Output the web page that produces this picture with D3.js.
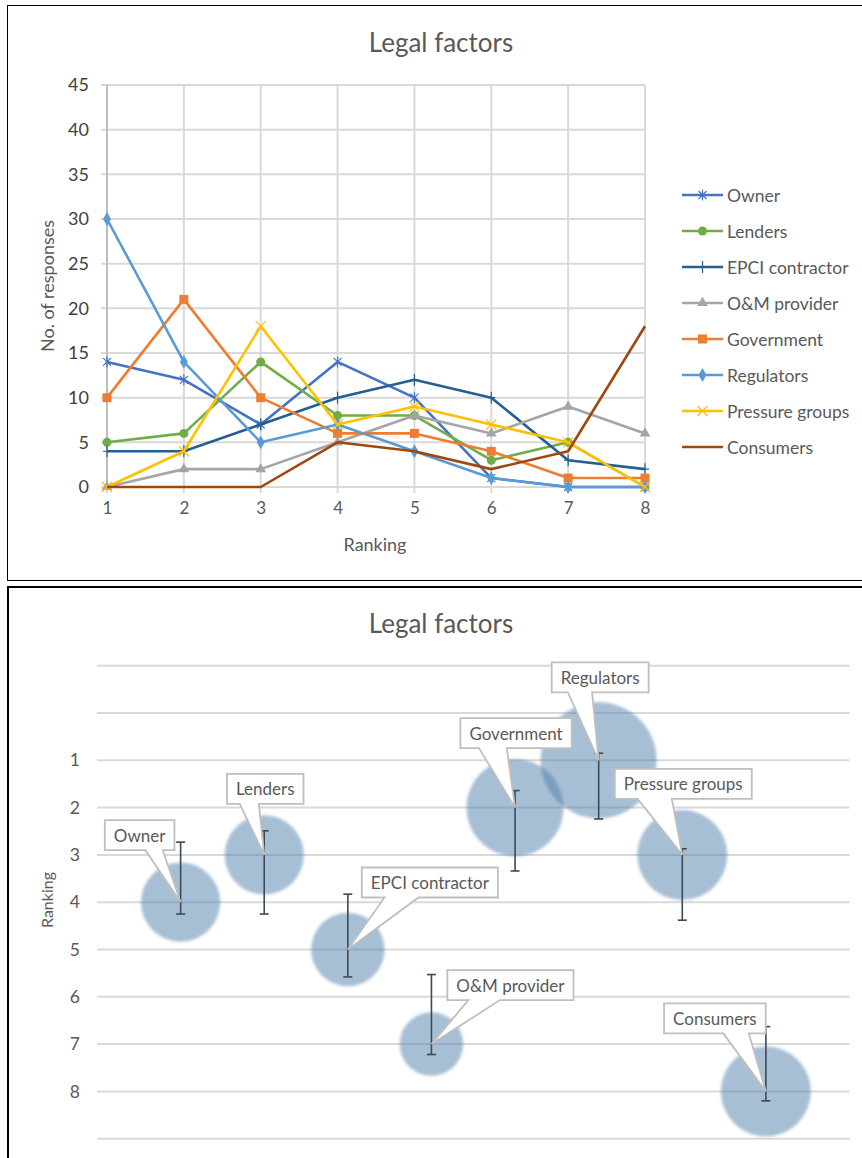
<!DOCTYPE html>
<html>
<head>
<meta charset="utf-8">
<script src="https://cdn.jsdelivr.net/npm/d3@7"></script>
<style>
  body { margin: 0; background: #fff; }
  svg { display: block; font-family: Lato, "Open Sans", sans-serif; }
</style>
</head>
<body>
<svg id="chart" width="862" height="1158"></svg>
<script>
// ---------- data: number of responses per ranking position ----------
const rankings = [1, 2, 3, 4, 5, 6, 7, 8];
const seriesNames = ["Owner", "Lenders", "EPCI contractor", "O&M provider",
                     "Government", "Regulators", "Pressure groups", "Consumers"];
const owner          = [14, 12, 7, 14, 10, 1, 0, 0];
const lenders        = [5, 6, 14, 8, 8, 3, 5, 0];
const epciContractor = [4, 4, 7, 10, 12, 10, 3, 2];
const omProvider     = [0, 2, 2, 5, 8, 6, 9, 6];
const government     = [10, 21, 10, 6, 6, 4, 1, 1];
const regulators     = [30, 14, 5, 7, 4, 1, 0, 0];
const pressureGroups = [0, 4, 18, 7, 9, 7, 5, 0];
const consumers      = [0, 0, 0, 5, 4, 2, 4, 18];
const responseTicks  = [0, 5, 10, 15, 20, 25, 30, 35, 40, 45];

// ---------- data: most frequent ranking per stakeholder ----------
const modalRanking   = [4, 3, 5, 7, 2, 1, 3, 8];
const peakResponses  = [14, 14, 12, 9, 21, 30, 18, 18];
const errorUpper     = [2.73, 2.49, 3.83, 5.53, 1.64, 0.85, 2.87, 6.63];
const errorLower     = [4.25, 4.25, 5.58, 7.22, 3.34, 2.24, 4.38, 8.2];
const rankTickLabels = [1, 2, 3, 4, 5, 6, 7, 8];

const seriesValues = [owner, lenders, epciContractor, omProvider,
                      government, regulators, pressureGroups, consumers];

// ---------- styling ----------
const colors = ["#4472C4", "#70AD47", "#255E91", "#A5A5A5",
                "#ED7D31", "#5B9BD5", "#FFC000", "#9E480E"];
const markers = ["star", "circle", "plus", "triangle", "square", "diamond", "x", "none"];
const textColor = "#595959";
const gridColor = "#d9d9d9";
const fontFamily = "Lato, 'Open Sans', sans-serif";

const svg = d3.select("#chart");

// chart frames
svg.append("rect").attr("x", 7.5).attr("y", 5.5).attr("width", 870).attr("height", 575)
  .attr("fill", "#fff").attr("stroke", "#000").attr("stroke-width", 1);
svg.append("rect").attr("x", 8).attr("y", 587).attr("width", 870).attr("height", 600)
  .attr("fill", "#fff").attr("stroke", "#000").attr("stroke-width", 2);

function markerPath(kind) {
  switch (kind) {
    case "star": return "M-4,-4L4,4M-4,4L4,-4M0,-5.5V5.5";
    case "plus": return "M0,-6V6M-4,0H4";
    case "x": return "M-5,-5L5,5M-5,5L5,-5";
    case "circle": return d3.symbol(d3.symbolCircle, 64)();
    case "triangle": return d3.symbol(d3.symbolTriangle, 50)();
    case "square": return d3.symbol(d3.symbolSquare, 81)();
    case "diamond": return d3.symbol(d3.symbolDiamond, 55)();
    default: return null;
  }
}
const strokeMarkers = new Set(["star", "plus", "x"]);

// ================= line chart =================
const lineChart = svg.append("g");
const x1 = d3.scaleLinear().domain([1, 8]).range([107, 645]);
const y1 = d3.scaleLinear().domain([0, 45]).range([487, 85]);

lineChart.append("text").attr("x", 441).attr("y", 42).attr("text-anchor", "middle")
  .attr("dominant-baseline", "central").attr("font-size", 26).attr("fill", textColor)
  .text("Legal factors");

// horizontal gridlines
lineChart.append("g").selectAll("line").data(responseTicks).join("line")
  .attr("x1", 101).attr("x2", 645).attr("y1", d => y1(d)).attr("y2", d => y1(d))
  .attr("stroke", gridColor).attr("stroke-width", 2);
// vertical gridlines (with small tick below axis)
lineChart.append("g").selectAll("line").data(rankings).join("line")
  .attr("x1", d => x1(d)).attr("x2", d => x1(d)).attr("y1", 85).attr("y2", 493)
  .attr("stroke", gridColor).attr("stroke-width", 2);
// value axis line
lineChart.append("line").attr("x1", 107).attr("x2", 107).attr("y1", 85).attr("y2", 487)
  .attr("stroke", "#bfbfbf").attr("stroke-width", 2);

// axis labels
const yAxis1 = d3.axisLeft(y1).tickValues(responseTicks).tickSize(0).tickPadding(18);
lineChart.append("g").attr("transform", "translate(107,0)").call(yAxis1)
  .call(g => g.select(".domain").remove())
  .call(g => g.selectAll("text").attr("font-size", 18).attr("fill", "#404040")
    .attr("font-family", fontFamily));
const xAxis1 = d3.axisBottom(x1).tickValues(rankings).tickSize(0).tickPadding(15).tickFormat(d3.format("d"));
lineChart.append("g").attr("transform", "translate(0,487)").call(xAxis1)
  .call(g => g.select(".domain").remove())
  .call(g => g.selectAll("text").attr("font-size", 17).attr("fill", textColor)
    .attr("font-family", fontFamily));

lineChart.append("text").attr("transform", "translate(47,286) rotate(-90)")
  .attr("text-anchor", "middle").attr("dominant-baseline", "central")
  .attr("font-size", 18).attr("fill", textColor).text("No. of responses");
lineChart.append("text").attr("x", 375).attr("y", 544).attr("text-anchor", "middle")
  .attr("dominant-baseline", "central").attr("font-size", 18).attr("fill", textColor)
  .text("Ranking");

// series lines and markers
const line = d3.line().x((d, i) => x1(rankings[i])).y(d => y1(d));
seriesValues.forEach((vals, s) => {
  const g = lineChart.append("g");
  g.append("path").datum(vals).attr("d", line).attr("fill", "none")
    .attr("stroke", colors[s]).attr("stroke-width", 2.6).attr("stroke-linejoin", "round");
  const p = markerPath(markers[s]);
  if (p) {
    g.selectAll("path.m").data(vals).join("path").attr("class", "m")
      .attr("transform", (d, i) => `translate(${x1(rankings[i])},${y1(d)})`)
      .attr("d", p)
      .attr("fill", strokeMarkers.has(markers[s]) ? "none" : colors[s])
      .attr("stroke", colors[s]).attr("stroke-width", strokeMarkers.has(markers[s]) ? 1.2 : 0);
  }
});

// legend
const legend = lineChart.append("g");
seriesNames.forEach((name, s) => {
  const ly = 195 + s * 36;
  const lg = legend.append("g");
  lg.append("line").attr("x1", 682).attr("x2", 723).attr("y1", ly).attr("y2", ly)
    .attr("stroke", colors[s]).attr("stroke-width", 2.6);
  const p = markerPath(markers[s]);
  if (p) {
    lg.append("path").attr("transform", `translate(702.5,${ly})`).attr("d", p)
      .attr("fill", strokeMarkers.has(markers[s]) ? "none" : colors[s])
      .attr("stroke", colors[s]).attr("stroke-width", strokeMarkers.has(markers[s]) ? 1.2 : 0);
  }
  lg.append("text").attr("x", 727).attr("y", ly).attr("dominant-baseline", "central")
    .attr("font-size", 17.5).attr("fill", textColor).text(name);
});

// ================= bubble chart =================
const bubbleChart = svg.append("g");
const x2 = d3.scaleLinear().domain([0, 9]).range([97, 849.5]);
const y2 = d3.scaleLinear().domain([-1, 9]).range([665.7, 1138.7]);
const r2 = d3.scaleSqrt().domain([0, 30]).range([0, 58]);

bubbleChart.append("text").attr("x", 441).attr("y", 623).attr("text-anchor", "middle")
  .attr("dominant-baseline", "central").attr("font-size", 26).attr("fill", textColor)
  .text("Legal factors");

bubbleChart.append("g").selectAll("line").data(d3.range(-1, 10)).join("line")
  .attr("x1", x2(0)).attr("x2", x2(9)).attr("y1", d => y2(d)).attr("y2", d => y2(d))
  .attr("stroke", gridColor).attr("stroke-width", 2);

const yAxis2 = d3.axisLeft(y2).tickValues(rankTickLabels).tickSize(0).tickPadding(17);
bubbleChart.append("g").attr("transform", `translate(${x2(0)},0)`).call(yAxis2)
  .call(g => g.select(".domain").remove())
  .call(g => g.selectAll("text").attr("font-size", 17.5).attr("fill", textColor)
    .attr("font-family", fontFamily));

bubbleChart.append("text").attr("transform", "translate(46,900) rotate(-90)")
  .attr("text-anchor", "middle").attr("dominant-baseline", "central")
  .attr("font-size", 16).attr("fill", textColor).text("Ranking");

// soft-edged translucent bubbles
const defs = svg.append("defs");
defs.append("filter").attr("id", "soft").attr("x", "-20%").attr("y", "-20%")
  .attr("width", "140%").attr("height", "140%")
  .append("feGaussianBlur").attr("stdDeviation", 1.4);

const bubbleData = seriesNames.map((name, i) => ({
  name, x: i + 1, y: modalRanking[i], size: peakResponses[i],
  lo: errorUpper[i], hi: errorLower[i]
}));

bubbleChart.append("g").attr("filter", "url(#soft)").selectAll("circle").data(bubbleData).join("circle")
  .attr("cx", d => x2(d.x)).attr("cy", d => y2(d.y)).attr("r", d => r2(d.size))
  .attr("fill", "rgb(78,128,170)").attr("fill-opacity", 0.5);

// error bars
const eb = bubbleChart.append("g").attr("stroke", "#3b4a58").attr("stroke-width", 1.6);
bubbleData.forEach(d => {
  const cx = x2(d.x);
  eb.append("line").attr("x1", cx).attr("x2", cx).attr("y1", y2(d.lo)).attr("y2", y2(d.hi));
  eb.append("line").attr("x1", cx - 4.5).attr("x2", cx + 4.5).attr("y1", y2(d.lo)).attr("y2", y2(d.lo));
  eb.append("line").attr("x1", cx - 4.5).attr("x2", cx + 4.5).attr("y1", y2(d.hi)).attr("y2", y2(d.hi));
});

// callout labels: box centre offset from the bubble centre
const calloutOffset = {
  "Owner": [-41, -67], "Lenders": [1, -66], "EPCI contractor": [82, -67],
  "O&M provider": [79, -59], "Government": [1, -74.5], "Regulators": [1.5, -83],
  "Pressure groups": [1, -71], "Consumers": [-51, -73]
};
const callouts = bubbleChart.append("g");
bubbleData.forEach(d => {
  const tx = x2(d.x), ty = y2(d.y);
  const [dx, dy] = calloutOffset[d.name];
  const g = callouts.append("g");
  const label = g.append("text").attr("font-size", 17).attr("fill", textColor)
    .attr("text-anchor", "middle").attr("dominant-baseline", "central")
    .attr("x", tx + dx).attr("y", ty + dy).text(d.name);
  const w = label.node().getComputedTextLength() + 18, h = 30;
  const L = tx + dx - w / 2, R = L + w, T = ty + dy - h / 2, B = T + h;
  const leftSide = tx < tx + dx;
  const b1 = L + w * (leftSide ? 2 / 12 : 7 / 12), b2 = L + w * (leftSide ? 5 / 12 : 10 / 12);
  g.insert("path", "text")
    .attr("d", `M${L},${T}H${R}V${B}H${b2}L${tx},${ty}L${b1},${B}H${L}Z`)
    .attr("fill", "#fff").attr("stroke", "#bfbfbf").attr("stroke-width", 1.8)
    .attr("stroke-linejoin", "miter");
});
</script>
</body>
</html>
